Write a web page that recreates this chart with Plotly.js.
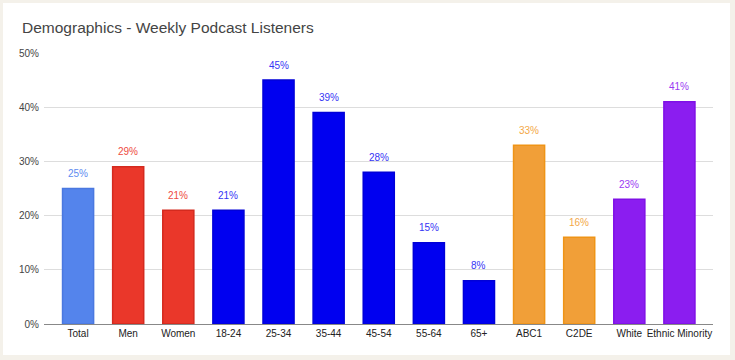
<!DOCTYPE html>
<html>
<head>
<meta charset="utf-8">
<script src="https://cdn.plot.ly/plotly-3.0.1.min.js"></script>
<style>
html,body{margin:0;padding:0;background:#f4f1ea;width:735px;height:360px;overflow:hidden;}
#card{position:absolute;left:3px;top:3px;width:727px;height:352px;background:#ffffff;}
#chart{width:727px;height:352px;}
</style>
</head>
<body>
<div id="card"><div id="chart"></div></div>
<script>
const categories = ["Total","Men","Women","18-24","25-34","35-44","45-54","55-64","65+","ABC1","C2DE","White","Ethnic Minority"];
const values = [25, 29, 21, 21, 45, 39, 28, 15, 8, 33, 16, 23, 41];
const groupColors = ["#5484ec","#ea372a","#ea372a","#0000f0","#0000f0","#0000f0","#0000f0","#0000f0","#0000f0","#f19f38","#f19f38","#8b1df0","#8b1df0"];
const outlineColors = ["#4a78e0","#d42a1e","#d42a1e","#0000d8","#0000d8","#0000d8","#0000d8","#0000d8","#0000d8","#ef9416","#ef9416","#7f10e6","#7f10e6"];
const labelColors = ["#5d8cf0","#ee4a3e","#ee4a3e","#3535f5","#3535f5","#3535f5","#3535f5","#3535f5","#3535f5","#f3a848","#f3a848","#9a3af2","#9a3af2"];
const yTicks = [0,10,20,30,40,50];

const trace = {
  type: "bar",
  x: categories,
  y: values,
  width: 0.62,
  marker: {color: groupColors, line: {color: outlineColors, width: 1.5}},
  hoverinfo: "none"
};

const annotations = categories.map((c, i) => ({
  x: c, y: values[i], xref: "x", yref: "y",
  text: values[i] + "%",
  showarrow: false,
  yanchor: "middle",
  yshift: 15,
  font: {family: "Arial, Liberation Sans, sans-serif", size: 10, color: labelColors[i]}
}));

const layout = {
  width: 727, height: 352,
  margin: {l: 41, r: 17, t: 50, b: 31, pad: 0},
  paper_bgcolor: "rgba(0,0,0,0)",
  plot_bgcolor: "#ffffff",
  showlegend: false,
  title: {
    text: "Demographics - Weekly Podcast Listeners",
    font: {family: "Arial, Liberation Sans, sans-serif", size: 15.5, color: "#444444"},
    xref: "container", x: 19/727, xanchor: "left",
    yref: "container", y: 1 - 25/352, yanchor: "middle"
  },
  xaxis: {
    range: [-0.68, 12.67],
    showgrid: false,
    showline: true, linecolor: "#888888", linewidth: 1,
    ticks: "", ticklen: 0,
    tickangle: 0,
    automargin: false,
    tickfont: {family: "Arial, Liberation Sans, sans-serif", size: 10, color: "#222222"},
    fixedrange: true
  },
  yaxis: {
    range: [0, 50],
    tickvals: yTicks,
    ticktext: yTicks.map(v => v + "%"),
    showgrid: true, gridcolor: "#dddddd", gridwidth: 1,
    zeroline: false,
    showline: false,
    ticks: "", ticklen: 0,
    ticklabelstandoff: 4,
    automargin: false,
    tickfont: {family: "Arial, Liberation Sans, sans-serif", size: 10, color: "#444444"},
    fixedrange: true
  },
  annotations: annotations
};

Plotly.newPlot("chart", [trace], layout, {displayModeBar: false, staticPlot: true});
</script>
</body>
</html>
